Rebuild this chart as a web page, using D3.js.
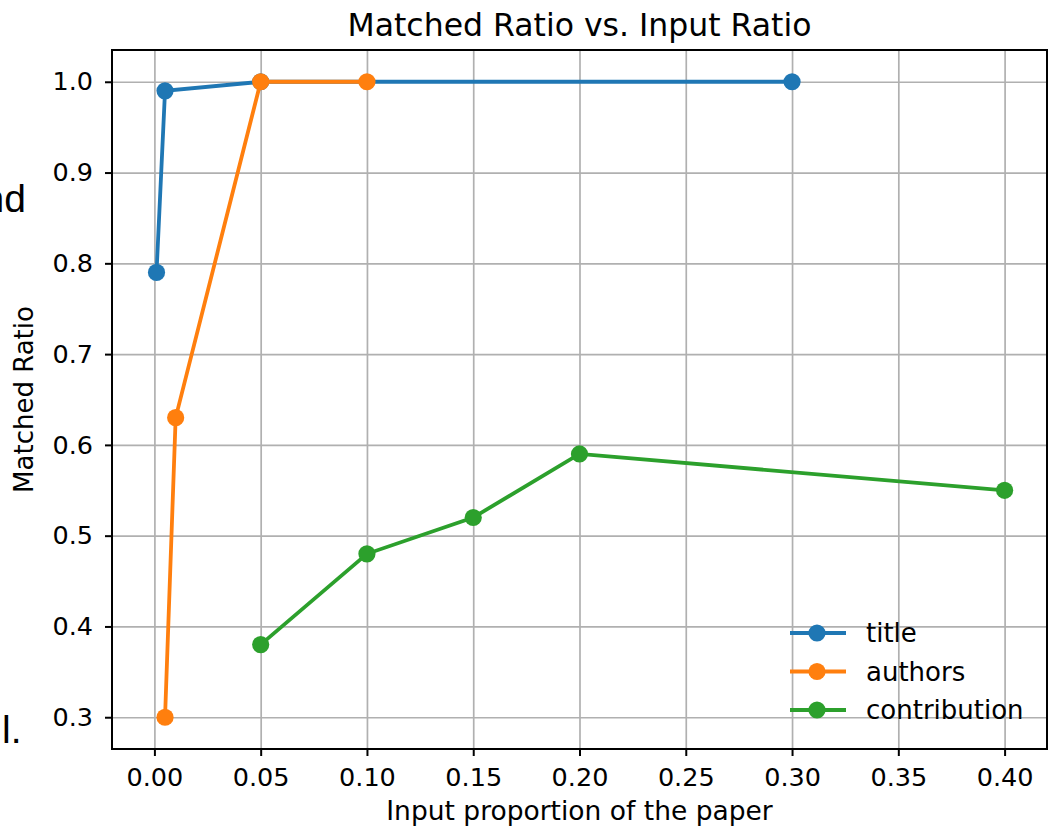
<!DOCTYPE html>
<html lang="en">
<head>
  <meta charset="UTF-8">
  <title>Matched Ratio vs. Input Ratio</title>
  <script src="https://d3js.org/d3.v7.min.js"></script>
  <style>
    body { margin: 0; background: #fff; }
    svg text { font-family: "DejaVu Sans", sans-serif; fill: #000; }
  </style>
</head>
<body>
<script>
  // data
  const seriesNames = ["title", "authors", "contribution"];
  const seriesColors = ["#1f77b4", "#ff7f0e", "#2ca02c"];
  const titleX = [0.001, 0.005, 0.05, 0.3];
  const titleY = [0.79, 0.99, 1.0, 1.0];
  const authorsX = [0.005, 0.01, 0.05, 0.1];
  const authorsY = [0.30, 0.63, 1.0, 1.0];
  const contributionX = [0.05, 0.1, 0.15, 0.2, 0.4];
  const contributionY = [0.38, 0.48, 0.52, 0.59, 0.55];
  const xTicks = [0, 0.05, 0.1, 0.15, 0.2, 0.25, 0.3, 0.35, 0.4];
  const yTicks = [0.3, 0.4, 0.5, 0.6, 0.7, 0.8, 0.9, 1.0];

  const width = 1051, height = 829;
  const margin = { top: 50, right: 4, bottom: 80, left: 112 };

  const svg = d3.select("body").append("svg")
    .attr("width", width)
    .attr("height", height);

  // stray text from the page the chart was cut from
  svg.append("text")
    .attr("x", 26).attr("y", 212)
    .attr("text-anchor", "end")
    .style("font-family", "'Liberation Sans', Arial, sans-serif")
    .style("font-size", "39px")
    .text("and");
  svg.append("text")
    .attr("x", 2).attr("y", 743)
    .style("font-family", "'Liberation Sans', Arial, sans-serif")
    .style("font-size", "39px")
    .text("l.");

  const x = d3.scaleLinear()
    .domain([-0.01995, 0.41995])
    .range([margin.left, width - margin.right]);
  const y = d3.scaleLinear()
    .domain([0.265, 1.035])
    .range([height - margin.bottom, margin.top]);

  // gridlines
  svg.append("g")
    .attr("transform", "translate(0," + (height - margin.bottom) + ")")
    .call(d3.axisBottom(x).tickValues(xTicks).tickSize(-(height - margin.top - margin.bottom)).tickFormat(""))
    .call(g => g.select(".domain").remove())
    .call(g => g.selectAll("line").attr("stroke", "#b0b0b0").attr("stroke-width", 1.7));
  svg.append("g")
    .attr("transform", "translate(" + margin.left + ",0)")
    .call(d3.axisLeft(y).tickValues(yTicks).tickSize(-(width - margin.left - margin.right)).tickFormat(""))
    .call(g => g.select(".domain").remove())
    .call(g => g.selectAll("line").attr("stroke", "#b0b0b0").attr("stroke-width", 1.7));

  // axes
  svg.append("g")
    .attr("transform", "translate(0," + (height - margin.bottom) + ")")
    .call(d3.axisBottom(x).tickValues(xTicks).tickSize(7).tickPadding(12).tickFormat(d3.format(".2f")))
    .call(g => g.select(".domain").remove())
    .call(g => g.selectAll("line").attr("stroke", "#000").attr("stroke-width", 2))
    .call(g => g.selectAll("text").style("font-size", "25.5px"));
  svg.append("g")
    .attr("transform", "translate(" + margin.left + ",0)")
    .call(d3.axisLeft(y).tickValues(yTicks).tickSize(7).tickPadding(12).tickFormat(d3.format(".1f")))
    .call(g => g.select(".domain").remove())
    .call(g => g.selectAll("line").attr("stroke", "#000").attr("stroke-width", 2))
    .call(g => g.selectAll("text").style("font-size", "25.5px"));

  // series
  const series = [
    { name: seriesNames[0], color: seriesColors[0], pts: titleX.map((v, i) => [v, titleY[i]]) },
    { name: seriesNames[1], color: seriesColors[1], pts: authorsX.map((v, i) => [v, authorsY[i]]) },
    { name: seriesNames[2], color: seriesColors[2], pts: contributionX.map((v, i) => [v, contributionY[i]]) }
  ];

  const line = d3.line().x(d => x(d[0])).y(d => y(d[1]));

  series.forEach(s => {
    svg.append("path")
      .datum(s.pts)
      .attr("fill", "none")
      .attr("stroke", s.color)
      .attr("stroke-width", 3.8)
      .attr("d", line);
    svg.selectAll(null)
      .data(s.pts)
      .enter().append("circle")
      .attr("cx", d => x(d[0]))
      .attr("cy", d => y(d[1]))
      .attr("r", 8.6)
      .attr("fill", s.color);
  });

  // frame
  svg.append("rect")
    .attr("x", margin.left).attr("y", margin.top)
    .attr("width", width - margin.left - margin.right)
    .attr("height", height - margin.top - margin.bottom)
    .attr("fill", "none")
    .attr("stroke", "#000")
    .attr("stroke-width", 2);

  // legend (no frame)
  const legend = svg.append("g").attr("transform", "translate(790,633)");
  series.forEach((s, i) => {
    const row = legend.append("g").attr("transform", "translate(0," + (i * 38.5) + ")");
    row.append("line").attr("x1", 0).attr("x2", 56)
      .attr("stroke", s.color).attr("stroke-width", 3.8);
    row.append("circle").attr("cx", 27).attr("r", 8.6).attr("fill", s.color);
    row.append("text").attr("x", 76).attr("dy", "0.35em")
      .style("font-size", "26px").text(s.name);
  });

  // titles
  svg.append("text")
    .attr("x", (margin.left + width - margin.right) / 2)
    .attr("y", 36)
    .attr("text-anchor", "middle")
    .style("font-size", "31.5px")
    .text("Matched Ratio vs. Input Ratio");
  svg.append("text")
    .attr("x", (margin.left + width - margin.right) / 2)
    .attr("y", 820)
    .attr("text-anchor", "middle")
    .style("font-size", "26.5px")
    .text("Input proportion of the paper");
  svg.append("text")
    .attr("transform", "translate(33," + ((margin.top + height - margin.bottom) / 2) + ") rotate(-90)")
    .attr("text-anchor", "middle")
    .style("font-size", "26px")
    .text("Matched Ratio");
</script>
</body>
</html>
